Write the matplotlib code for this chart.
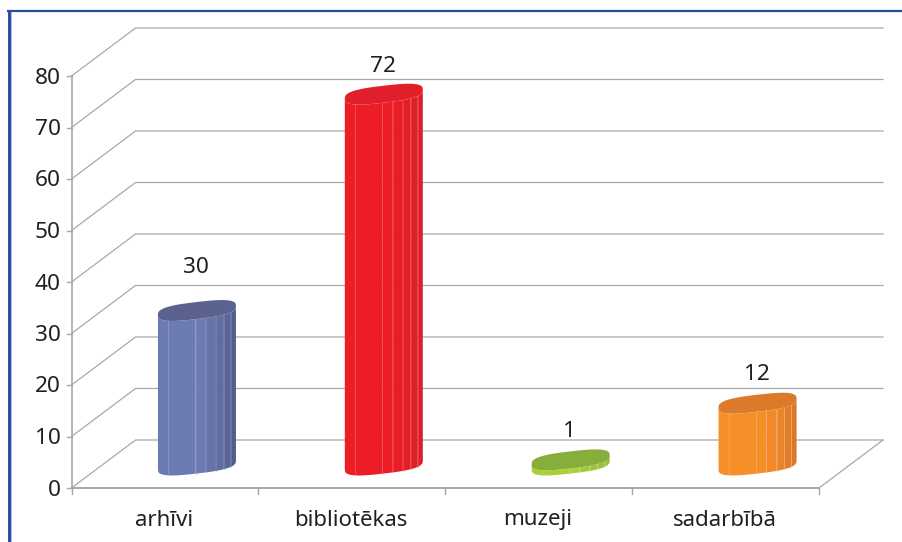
import numpy as np
import matplotlib
matplotlib.use("Agg")
import matplotlib.pyplot as plt
from matplotlib.colors import to_rgb
from matplotlib.lines import Line2D

plt.rcParams["font.family"] = ["Noto Sans", "DejaVu Sans"]

categories = ["arhīvi", "bibliotēkas", "muzeji", "sadarbībā"]
values = [30, 72, 1, 12]
yticks = [0, 10, 20, 30, 40, 50, 60, 70, 80]

side_light = ["#6c7cb2", "#ee1c25", "#a9d037", "#f68f28"]
side_dark = ["#535d8c", "#d8202b", "#95bb38", "#d9782a"]
top_colors = ["#5c6290", "#e2202c", "#87ad3b", "#db7b2a"]
facet_edges = ["#8490bd", "#f4555c", "#bfdc6a", "#f9ad66"]

W, H = 902, 542
X0, X1, Y0, Y1 = 71.5, 819, 488, 76   # plot box in pixels
px_x = 4 / (X1 - X0)                  # data units per pixel
px_y = 80 / (Y0 - Y1)
depth_x, depth_y = 64 * px_x, 48 * px_y
grid_c = "#a8a8a8"

fig = plt.figure(figsize=(W / 100, H / 100), dpi=100)
ax = fig.add_axes([X0 / W, 1 - Y0 / H, (X1 - X0) / W, (Y0 - Y1) / H])
ax.set_xlim(0, 4)
ax.set_ylim(0, 80)
ax.axis("off")

# back wall + side wall
for v in yticks:
    ax.plot([0, depth_x, 4 + depth_x], [v, v + depth_y, v + depth_y], color=grid_c,
            lw=0.9, clip_on=False, zorder=1)
ax.plot([4, 4 + depth_x], [0, depth_y], color=grid_c, lw=0.9, clip_on=False, zorder=1)
ax.plot([0, 4], [0, 0], color=grid_c, lw=1.4, clip_on=False, zorder=1)
ax.plot([0, 0], [0, 80], color=grid_c, lw=1.2, clip_on=False, zorder=1)

# tick marks and tick labels
for v in yticks:
    ax.plot([-5 * px_x, 0], [v, v], color=grid_c, lw=1.0, clip_on=False, zorder=1)
    ax.annotate(str(v), (0, v), xytext=(-11, -2), textcoords="offset pixels", ha="right",
                va="center", fontsize=16.3, color="#231f20", annotation_clip=False)
for i in range(5):
    ax.plot([i, i], [0, -6 * px_y], color=grid_c, lw=1.0, clip_on=False, zorder=1)
for i, c in enumerate(categories):
    ax.annotate(c, (i + 0.5, 0), xytext=(-1, -32), textcoords="offset pixels", ha="center",
                va="center", fontsize=16, color="#231f20", annotation_clip=False)


def ring(theta, cx, cy):
    """Rounded, sheared section of the squat cylinders in the picture."""
    c, s = np.cos(theta), np.sin(theta)
    cp = np.sign(c) * np.abs(c) ** 0.7
    sp = np.sign(s) * np.abs(s) ** 0.7
    return cx + 39 * px_x * cp, cy - (8.5 * sp - 4.5 * cp) * px_y


# front facets, angles picked off the picture's vertical seams
facets = np.radians([180, 130, 90.5, 83, 69, 54, 35, 0])
label_pad = [43, 28, 28, 29]

for i, v in enumerate(values):
    cx = i + 0.5 + depth_x / 2
    base = 23 * px_y
    for j in range(len(facets) - 1):
        th = np.linspace(facets[j], facets[j + 1], 12)
        xa, ya = ring(th, cx, base)
        xb, yb = ring(th[::-1], cx, base + v)
        # side tone goes from light on the left to dark on the right
        t = max(0, (j - 2) / 4)
        col = np.array(to_rgb(side_light[i])) * (1 - t) + np.array(to_rgb(side_dark[i])) * t
        ax.fill(np.r_[xa, xb], np.r_[ya, yb], facecolor=col, edgecolor="none",
                clip_on=False, zorder=3)
        if j > 0:
            ax.plot([xa[0], xa[0]], [ya[0], yb[-1]], color=facet_edges[i], lw=0.5,
                    alpha=0.7, clip_on=False, zorder=4)
    xt, yt = ring(np.linspace(0, 2 * np.pi, 120), cx, base + v)
    ax.fill(xt, yt, facecolor=top_colors[i], edgecolor="none", clip_on=False, zorder=5)
    ax.annotate(str(v), (cx, base + v), xytext=(-1, label_pad[i]), textcoords="offset pixels",
                ha="center", va="center", fontsize=16.3, color="#231f20", annotation_clip=False)

# page frame, only its top and left edges are in view
fig.add_artist(Line2D([8.5 / W, 8.5 / W], [0, 1 - 9.5 / H], color="#2a4b9b", lw=2.1,
                      solid_capstyle="butt"))
fig.add_artist(Line2D([7 / W, 1], [1 - 10.5 / H, 1 - 10.5 / H], color="#2a4b9b", lw=1.6,
                      solid_capstyle="butt"))
fig.add_artist(Line2D([10.5 / W, 10.5 / W], [0, 1 - 12 / H], color="#a9b8e0", lw=0.7,
                      solid_capstyle="butt"))

fig.savefig("out.png", dpi=100)
